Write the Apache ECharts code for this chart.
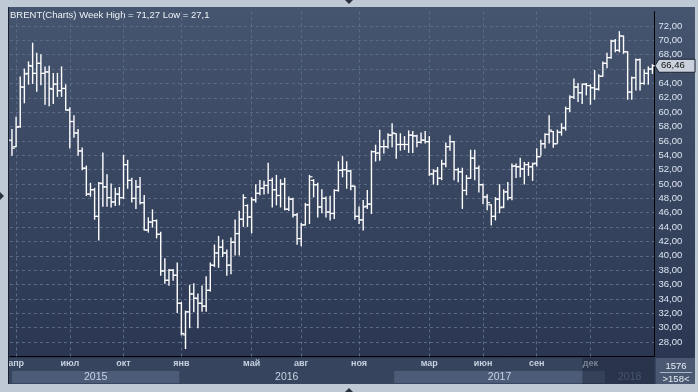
<!DOCTYPE html>
<html><head><meta charset="utf-8">
<script src="https://cdn.jsdelivr.net/npm/echarts@6/dist/echarts.min.js"></script>
<style>
html,body{margin:0;padding:0;}
#wrap{position:relative;width:698px;height:392px;background:#bfc9d6;overflow:hidden;}
#panel{position:absolute;left:8px;top:7px;width:687px;height:351px;background:linear-gradient(#46556f,#2b3752);}
#axisbg{position:absolute;left:8px;top:358px;width:687px;height:26px;background:#37445d;}
#corner{position:absolute;left:656px;top:358px;width:39px;height:26px;background:#4a5872;}
#c{position:absolute;left:0;top:0;width:698px;height:392px;}
</style>
</head><body>
<div id="wrap"><div id="panel"></div><div id="axisbg"></div><div id="corner"></div><div id="c"></div></div>
<script>
// ---- data (weekly OHLC, BRENT) ----
const startWeek = '2015-04-03';
const opens  = [56.1,55.2,58.0,63.5,65.4,66.4,65.4,66.8,65.4,65.6,63.2,63.9,63.0,63.3,60.3,58.7,57.1,54.6,52.2,48.6,49.2,45.5,50.1,49.6,48.1,47.5,48.6,48.1,52.7,50.5,48.0,49.6,47.4,43.6,44.7,44.9,43.0,37.9,36.6,38.0,
37.3,33.4,29.0,32.2,34.7,34.1,33.4,33.0,35.2,38.7,40.4,41.2,40.4,38.7,41.9,43.1,45.1,47.0,45.4,47.8,48.7,49.4,49.8,50.5,49.2,48.4,50.0,46.5,47.9,45.7,
42.4,44.3,47.1,50.5,49.9,46.8,48.0,46.1,45.9,49.1,51.9,52.0,51.8,49.7,45.5,45.0,46.9,47.2,54.5,54.3,55.2,55.2,56.8,57.0,55.5,55.5,55.5,56.8,56.7,55.8,
56.1,55.9,51.4,51.8,50.8,52.8,55.2,55.9,52.0,51.7,49.1,50.8,53.6,52.2,49.9,48.2,47.1,45.5,47.9,46.8,48.9,48.1,52.5,52.4,52.1,52.7,52.4,52.9,53.8,55.6,
56.9,57.3,55.6,57.2,57.8,60.5,62.1,63.5,62.7,63.9,63.7,63.4,63.2,65.0,66.8,67.6,69.9,68.6,70.6,68.4,62.8,64.8,67.3,64.0,65.4,66.0];
const highs  = [57.6,59.3,64.9,66.0,67.0,69.6,68.2,68.0,66.3,66.4,65.4,65.4,66.3,63.8,60.6,59.5,57.6,55.0,52.5,50.1,49.4,50.2,54.3,51.3,50.0,49.4,49.5,54.0,53.3,50.8,50.5,50.9,48.4,45.3,46.4,45.0,43.3,39.6,38.1,38.1,
39.0,33.5,32.3,35.9,36.1,34.7,35.8,37.1,39.0,41.5,42.7,42.2,40.8,42.5,45.0,46.2,48.5,47.1,48.1,49.9,50.5,50.4,52.9,50.8,51.2,50.6,50.8,48.2,48.0,45.9,
44.5,47.3,51.2,50.6,50.1,49.2,48.2,48.3,49.2,53.1,53.8,53.1,51.9,49.7,46.8,47.7,49.1,54.6,55.4,57.5,56.1,57.0,58.4,57.0,57.0,56.6,57.4,57.3,56.8,57.1,
57.3,56.6,52.0,52.3,53.3,55.7,56.7,55.9,52.2,52.2,51.2,54.7,54.7,52.5,50.0,48.5,47.1,48.1,49.9,49.2,50.2,52.8,52.8,53.6,53.0,53.0,52.9,54.9,56.1,57.0,
59.5,57.3,57.5,58.4,60.7,62.3,64.6,64.0,63.9,64.0,63.8,65.8,65.2,67.0,68.2,70.0,70.1,71.2,70.6,68.4,64.9,67.4,67.4,65.9,66.3,66.6];
const lows   = [54.0,55.2,57.9,61.3,63.9,64.0,62.9,63.8,61.1,60.9,61.2,62.2,62.2,60.3,55.0,56.5,54.0,52.0,48.4,48.3,45.1,42.2,46.9,46.9,46.8,47.0,47.1,48.0,49.4,47.5,46.6,47.2,43.6,43.3,44.0,42.5,37.3,36.2,35.9,36.6,
32.1,29.0,27.1,30.0,32.2,30.0,32.3,32.3,35.1,38.5,38.4,39.9,37.3,37.5,40.1,40.1,44.1,44.1,43.2,47.5,48.5,48.6,48.7,46.8,47.1,46.8,46.4,46.3,45.4,41.6,
41.4,44.3,44.5,48.2,45.4,46.0,45.4,45.0,45.2,49.0,51.0,49.4,49.2,45.1,44.5,43.6,46.6,45.9,53.2,53.3,54.3,55.0,55.2,53.6,54.7,54.8,54.4,54.4,55.2,55.7,
55.7,51.2,50.0,49.9,50.6,52.4,54.7,50.6,50.3,46.6,48.5,50.8,50.6,48.9,47.3,46.4,44.3,45.0,46.0,46.7,47.8,47.8,50.9,51.0,50.0,51.2,50.5,52.5,54.0,55.0,
55.7,55.1,55.7,56.8,57.5,60.1,61.9,61.5,61.2,62.4,61.1,61.8,63.1,65.0,66.2,67.5,68.4,68.4,68.2,61.8,61.8,63.1,63.1,63.9,63.9,65.4];
const closes = [55.0,57.9,63.5,65.3,66.5,65.4,66.8,65.4,65.6,63.3,63.9,63.0,63.3,60.3,58.7,57.1,54.6,52.2,48.6,49.2,45.5,50.1,49.6,48.1,47.5,48.6,48.1,52.7,50.5,48.0,49.6,47.4,43.6,44.7,44.9,43.0,37.9,36.6,38.0,37.3,
33.4,29.2,32.2,34.7,34.1,33.4,33.0,35.2,38.7,40.4,41.2,40.4,38.7,41.9,43.1,45.1,48.1,45.4,47.8,48.7,49.4,49.8,50.5,49.2,48.4,50.0,46.5,47.9,45.7,42.4,
44.3,47.1,51.0,49.9,46.8,48.0,46.1,45.9,49.1,51.9,52.0,51.8,49.7,45.5,45.0,46.8,47.2,54.5,54.3,55.2,55.2,56.8,57.1,55.5,55.5,55.5,56.8,56.7,55.8,56.1,
55.9,51.4,51.8,50.8,52.8,55.2,55.9,52.0,51.7,49.1,50.8,53.6,52.2,49.9,48.2,47.4,45.5,47.9,46.7,48.9,48.1,52.5,52.4,52.1,52.7,52.4,52.8,53.8,55.6,56.9,
57.5,55.6,57.2,57.8,60.5,62.1,63.5,62.7,63.9,63.7,63.4,63.2,65.0,66.8,67.6,69.9,68.6,70.6,68.4,62.8,64.8,67.3,64.0,65.4,66.0,66.46];
const tickIdx  = [1,14,27,41,58,70,84,101,114,127,140];
const tickText = ['апр','июл','окт','янв','май','авг','ноя','мар','июн','сен','дек'];
const yearText  = ['2015','2016','2017','2018'];
const yearStart = [0,41,93,144];
const lastPrice = 66.46;
const titleText = 'BRENT(Charts) Week High = 71,27 Low = 27,1';
const cornerTop = '1576', cornerBottom = '>158<';

// ---- categories (week dates) ----
const weeks = [];
{ const d = new Date(startWeek + 'T00:00:00Z');
  for (let i = 0; i < closes.length; i++) { weeks.push(d.toISOString().slice(0,10)); d.setUTCDate(d.getUTCDate()+7); } }
const ohlc = closes.map((c,i)=>[i, opens[i], highs[i], lows[i], c]);

const FONT = 'Liberation Sans';
function renderItem(params, api){
  const i = api.value(0);
  const o = api.coord([i, api.value(1)]);
  const h = api.coord([i, api.value(2)]);
  const l = api.coord([i, api.value(3)]);
  const c = api.coord([i, api.value(4)]);
  const x = o[0];
  const st = {stroke:'#ffffff', lineWidth:1.4};
  return {type:'group', children:[
    {type:'line', shape:{x1:x, y1:h[1]-0.5, x2:x, y2:l[1]+0.5}, style:st},
    {type:'line', shape:{x1:x-3, y1:o[1], x2:x, y2:o[1]}, style:{stroke:'#ffffff', lineWidth:1.2}},
    {type:'line', shape:{x1:x, y1:c[1], x2:x+3, y2:c[1]}, style:{stroke:'#ffffff', lineWidth:1.2}}
  ]};
}

const chart = echarts.init(document.getElementById('c'), null, {renderer:'canvas'});
const gridCol = '#5b6a86';
chart.setOption({
  animation:false,
  backgroundColor:'transparent',
  grid:{left:9.9, top:11.6, width:644.6, height:344.8},
  xAxis:{type:'category', data:weeks, boundaryGap:true,
    axisLine:{show:true, lineStyle:{color:'#000', width:1}},
    axisTick:{show:false},
    axisLabel:{interval:(i)=>tickIdx.includes(i), formatter:(v,i)=>tickText[tickIdx.indexOf(i)],
      color:'#c5d0e0', fontSize:9, fontWeight:'bold', fontFamily:FONT, margin:3},
    splitLine:{show:false}},
  yAxis:{type:'value', position:'right', min:26, max:74, interval:2,
    axisLine:{show:true, lineStyle:{color:'#000', width:1}},
    axisTick:{show:false},
    axisLabel:{formatter:(v)=>v.toFixed(2).replace('.',','), color:'#dde5f0', fontSize:9.5, fontFamily:FONT, margin:4,
      showMinLabel:false, showMaxLabel:false},
    splitLine:{show:true, showMinLine:false, showMaxLine:false, lineStyle:{color:gridCol, type:[3,3], width:1}}},
  series:[{type:'custom', renderItem, data:ohlc, encode:{x:0, y:[1,2,3,4]}, z:5,
    markLine:{silent:true, symbol:'none', label:{show:false}, animation:false, z:1,
      lineStyle:{color:gridCol, type:[3,3], width:1},
      data: tickIdx.map(i=>({xAxis: weeks[i]}))}}]
});

// ---- decorations positioned through the axes ----
const xOf = (i)=>chart.convertToPixel({xAxisIndex:0}, i);
const half = (xOf(1)-xOf(0))/2;
const plotR = 654.5;
const g = [];
g.push({type:'text', left:10, top:10, style:{text:titleText, fill:'#eef2f7', font:'9.5px '+FONT}});
const yearEdges = yearStart.map(i=> i===0 ? 12 : xOf(i)-half);
yearEdges.push(plotR);
for (let k=0;k<yearText.length;k++){
  const x0 = yearEdges[k], x1 = yearEdges[k+1];
  if (k%2===0 && k<3) g.push({type:'rect', shape:{x:x0, y:371, width:x1-x0, height:12}, style:{fill:'#4c5b77'}, z:1});
  g.push({type:'text', x:(x0+x1)/2, y:377, style:{text:yearText[k], fill: k===3?'#6d7c98':'#c8d2e2', font:'10.5px '+FONT, align:'center', verticalAlign:'middle'}, z:3});
}
g.push({type:'rect', shape:{x:xOf(140)-8, y:358, width:plotR-xOf(140)+8, height:26}, style:{fill:'rgba(25,34,54,0.45)'}, z:4});
// last price marker
const py = chart.convertToPixel({yAxisIndex:0}, lastPrice);
g.push({type:'polygon', shape:{points:[[655,py],[659,py-6.5],[695,py-6.5],[695,py+6.5],[659,py+6.5]]}, style:{fill:'#c9d1dc', stroke:'#1c2233', lineWidth:1}, z:6});
g.push({type:'text', x:661, y:py, style:{text:lastPrice.toFixed(2).replace('.',','), fill:'#111', font:'9.5px '+FONT, verticalAlign:'middle'}, z:7});
// corner box
g.push({type:'text', x:676, y:366, style:{text:cornerTop, fill:'#e6ecf4', font:'9.5px '+FONT, align:'center', verticalAlign:'middle'}, z:7});
g.push({type:'line', shape:{x1:660, y1:372.5, x2:692, y2:372.5}, style:{stroke:'#aab5c6', lineWidth:1}, z:7});
g.push({type:'text', x:676, y:379, style:{text:cornerBottom, fill:'#e6ecf4', font:'9.5px '+FONT, align:'center', verticalAlign:'middle'}, z:7});
// frame arrows
g.push({type:'polygon', shape:{points:[[345,0],[353,0],[349,4]]}, style:{fill:'#2a3040'}, z:7});
g.push({type:'polygon', shape:{points:[[345,392],[353,392],[349,388]]}, style:{fill:'#2a3040'}, z:7});
g.push({type:'polygon', shape:{points:[[0,192],[0,200],[4,196]]}, style:{fill:'#2a3040'}, z:7});
g.push({type:'line', shape:{x1:8.5, y1:7, x2:8.5, y2:384}, style:{stroke:'#1a2030', lineWidth:1}, z:7});
chart.setOption({graphic:{elements:g}});
</script>
</body></html>
